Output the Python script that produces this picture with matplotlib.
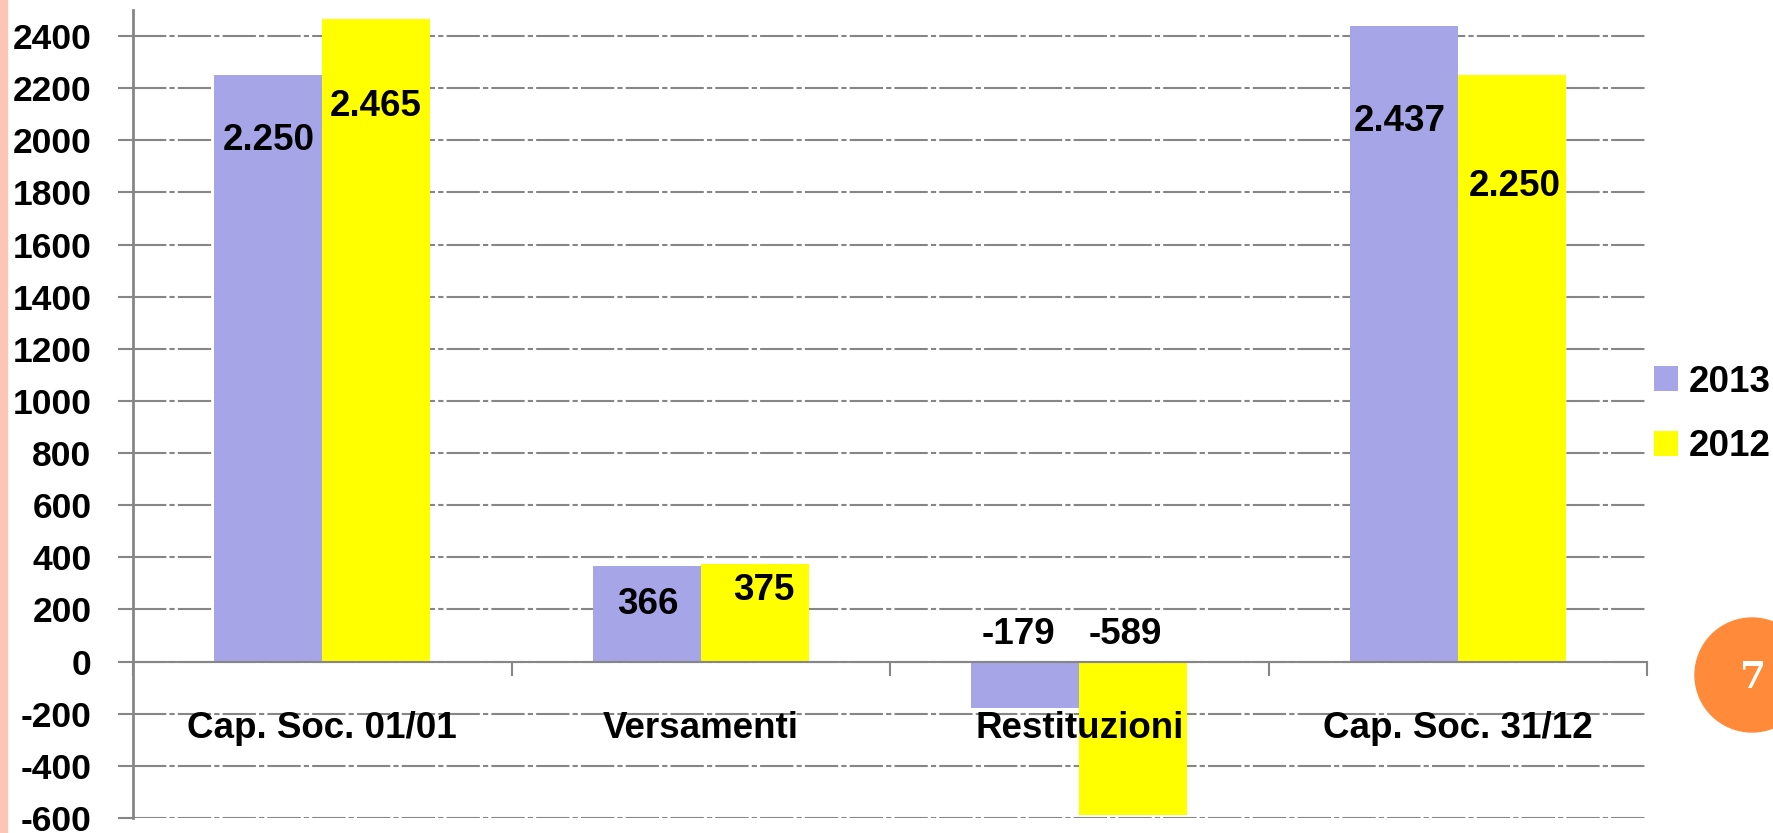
import matplotlib
matplotlib.use("Agg")
import matplotlib.pyplot as plt
from matplotlib import font_manager as fm
from matplotlib.patches import Rectangle, Ellipse
import numpy as np

# ---- data ----
categories = ["Cap. Soc. 01/01", "Versamenti", "Restituzioni", "Cap. Soc. 31/12"]
series_names = ["2013", "2012"]
values_2013 = [2250, 366, -179, 2437]
values_2012 = [2465, 375, -589, 2250]
labels_2013 = ["2.250", "366", "-179", "2.437"]
labels_2012 = ["2.465", "375", "-589", "2.250"]
yticks = list(range(-600, 2401, 200))

# ---- layout / style ----
W, H, DPI = 1773, 833, 100
col_2013 = "#A5A5E8"
col_2012 = "#FFFF00"
grid_col = "#868686"

def pick_font():
    for f in ["Liberation Sans Narrow", "Arial Narrow", "Liberation Sans", "Arial"]:
        try:
            fm.findfont(fm.FontProperties(family=f), fallback_to_default=False)
            return f
        except Exception:
            pass
    return "DejaVu Sans"

FONT = pick_font()
narrow = "Narrow" in FONT
FS_TICK = 30 if narrow else 25.5
FS_TXT = 32 if narrow else 26.5
plt.rcParams["font.family"] = [FONT, "DejaVu Sans"]
plt.rcParams["font.weight"] = "bold"

fig = plt.figure(figsize=(W / DPI, H / DPI), dpi=DPI)
ax = fig.add_axes([133 / W, 1 - 818 / H, (1647 - 133) / W, (818 - 10) / H])

x = np.arange(len(categories))
bw = 108 / 378.5
b1 = ax.bar(x - bw / 2, values_2013, bw, color=col_2013, label=series_names[0], zorder=2)
b2 = ax.bar(x + bw / 2, values_2012, bw, color=col_2012, label=series_names[1], zorder=2)

ax.set_xlim(-0.5, len(categories) - 0.5)
ax.set_ylim(-600, 2500)

# grid
ax.set_axisbelow(True)
ax.set_yticks(yticks)
ax.set_yticklabels([str(v) for v in yticks], fontsize=FS_TICK, fontweight="bold")
ax.yaxis.grid(True, color=grid_col, linewidth=1.5, linestyle=(0, (16, 1.5, 2.5, 1.5)))
ax.tick_params(axis="y", direction="out", length=10.8, width=1.5, color=grid_col, pad=19)

# spines
for s in ["top", "right"]:
    ax.spines[s].set_visible(False)
ax.spines["left"].set_color(grid_col)
ax.spines["left"].set_linewidth(2)
ax.spines["bottom"].set_position(("data", 0))
ax.spines["bottom"].set_color(grid_col)
ax.spines["bottom"].set_linewidth(1.5)

ax.set_xticks(np.arange(-0.5, len(categories), 1.0))
ax.set_xticklabels([])
ax.tick_params(axis="x", direction="out", length=10, width=1.5, color=grid_col)

# category labels
for i, c in enumerate(categories):
    ax.annotate(c, xy=(i, 0), xytext=(0, -67), textcoords="offset pixels",
                ha="center", va="center", fontsize=FS_TXT, fontweight="bold", zorder=5)

# data labels (offsets in pixels relative to bar end)
off_2013 = [(0, -65), (1, -38), (-7, 27), (-4, -95)]
off_2012 = [(-1, -87), (9, -27), (-8, 27), (3, -111)]
for i in range(len(categories)):
    ax.annotate(labels_2013[i], xy=(x[i] - bw / 2, values_2013[i] if values_2013[i] > 0 else 0),
                xytext=off_2013[i], textcoords="offset pixels", ha="center", va="center",
                fontsize=FS_TXT, fontweight="bold", zorder=5)
    ax.annotate(labels_2012[i], xy=(x[i] + bw / 2, values_2012[i] if values_2012[i] > 0 else 0),
                xytext=off_2012[i], textcoords="offset pixels", ha="center", va="center",
                fontsize=FS_TXT, fontweight="bold", zorder=5)

# legend
ax.legend(handles=[b1, b2], loc="center left", bbox_to_anchor=(1654 / W, 1 - 414.5 / H),
          bbox_transform=fig.transFigure, frameon=False,
          prop={"weight": "bold", "size": FS_TXT}, handlelength=0.66, handleheight=0.66,
          handletextpad=0.28, labelspacing=0.8, borderpad=0, borderaxespad=0)

# decorations
fig.patches.append(Rectangle((0, 0), 7 / W, 1, transform=fig.transFigure,
                             color="#FBC6B6", zorder=0))
fig.patches.append(Ellipse((1752 / W, 1 - 675 / H), 114 / W, 114 / H,
                           transform=fig.transFigure, color="#FF8B3A", zorder=0))
fig.text(1753 / W, 1 - 678 / H, "7", color="white", fontsize=27, fontweight="bold",
         family="DejaVu Serif", ha="center", va="center")

fig.savefig("out.png", dpi=DPI)
